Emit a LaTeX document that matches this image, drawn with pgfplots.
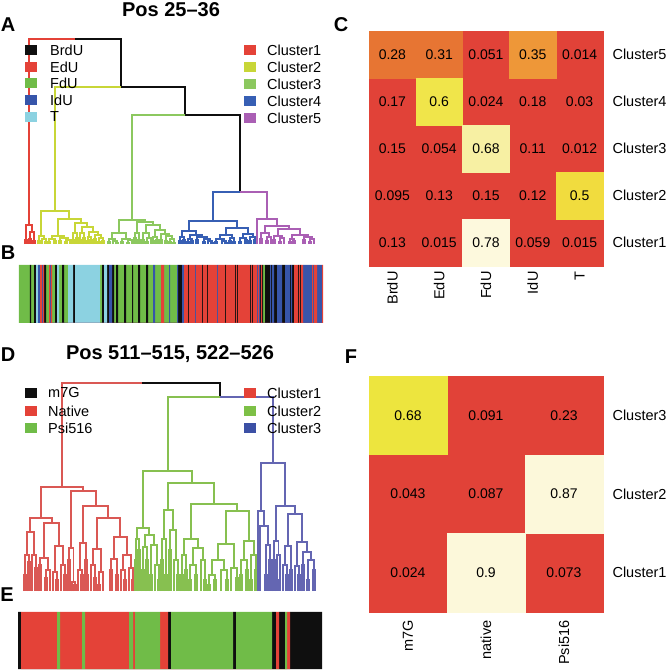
\documentclass[border=0pt]{standalone}
\usepackage{fontspec}
\setmainfont{Liberation Sans}
\usepackage{pgfplots}
\pgfplotsset{compat=1.18}
\definecolor{lK}{RGB}{15,15,15}
\definecolor{lR}{RGB}{228,66,56}
\definecolor{lG}{RGB}{112,188,72}
\definecolor{lB}{RGB}{55,85,170}
\definecolor{lC}{RGB}{140,210,225}
\definecolor{cA1}{RGB}{228,66,56}
\definecolor{cA2}{RGB}{200,214,55}
\definecolor{cA3}{RGB}{140,200,95}
\definecolor{cA4}{RGB}{55,95,180}
\definecolor{cA5}{RGB}{170,95,180}
\definecolor{dR}{RGB}{218,88,84}
\definecolor{dG}{RGB}{135,192,80}
\definecolor{dB}{RGB}{100,102,178}
\definecolor{cD2}{RGB}{125,192,70}
\definecolor{cD3}{RGB}{60,80,165}
\definecolor{hR}{RGB}{225,66,56}
\definecolor{hO1}{RGB}{231,117,51}
\definecolor{hO2}{RGB}{238,151,56}
\definecolor{hY1}{RGB}{240,229,74}
\definecolor{hY2}{RGB}{241,220,62}
\definecolor{hP1}{RGB}{247,240,163}
\definecolor{hP2}{RGB}{253,249,221}
\definecolor{hYF}{RGB}{237,229,62}
\definecolor{hPF}{RGB}{252,248,218}
\newcommand\fA{\fontsize{14.5}{17}\selectfont}
\newcommand\fB{\fontsize{14}{16}\selectfont}
\newcommand\fT{\fontsize{20}{22}\selectfont\bfseries}
\begin{document}
\begin{tikzpicture}
\path[use as bounding box] (0,0) rectangle (670pt,670pt);
% ---------------- main canvas axis (pixel coordinates, y downwards)
\begin{axis}[at={(0pt,670pt)}, anchor=north west, x=1pt, y=1pt, y dir=reverse,
  xmin=0, xmax=670, ymin=0, ymax=670, hide axis, clip=false, unbounded coords=jump,
  every axis plot/.append style={line width=1.1pt, line join=miter}]
% ===== Dendrogram A
\addplot[lK, mark=none] coordinates {(75,39)(121,39)(121,87)(nan,nan)(121,87)(185,87)(185,115)(nan,nan)(185,115)(240,115)(240,192)};
\addplot[cA1, mark=none] coordinates {(29,225)(29,39)(75,39)(nan,nan)
(26,240)(26,225)(32,225)(32,232)(nan,nan)
(25,244)(25,240)(27,240)(27,244)(nan,nan)
(30,239)(30,232)(34,232)(34,241)(nan,nan)
(29,244)(29,239)(31,239)(31,244)(nan,nan)
(33,244)(33,241)(35,241)(35,244)};
\addplot[cA2, mark=none] coordinates {(55,211)(55,87)(121,87)(nan,nan)
(41,236)(41,211)(69,211)(69,219)(nan,nan)
(39,241)(39,236)(44,236)(44,239)(nan,nan)
(38,244)(38,241)(40,241)(40,244)(nan,nan)
(42,244)(42,239)(46,239)(46,242)(nan,nan)
(45,244)(45,242)(47,242)(47,244)(nan,nan)
(58,236)(58,219)(81,219)(81,223)(nan,nan)
(52,239)(52,236)(64,236)(64,238)(nan,nan)
(49,242)(49,239)(55,239)(55,241)(nan,nan)
(48,244)(48,242)(50,242)(50,244)(nan,nan)
(54,244)(54,241)(56,241)(56,244)(nan,nan)
(60,241)(60,238)(68,238)(68,240)(nan,nan)
(59,244)(59,241)(61,241)(61,244)(nan,nan)
(66,242)(66,240)(70,240)(70,244)(nan,nan)
(65,244)(65,242)(67,242)(67,244)(nan,nan)
(75,233)(75,223)(87,223)(87,227)(nan,nan)
(73,240)(73,233)(77,233)(77,238)(nan,nan)
(72,244)(72,240)(74,240)(74,244)(nan,nan)
(76,242)(76,238)(78,238)(78,244)(nan,nan)
(75,244)(75,242)(77,242)(77,244)(nan,nan)
(82,233)(82,227)(93,227)(93,232)(nan,nan)
(80,240)(80,233)(84,233)(84,238)(nan,nan)
(79,244)(79,240)(81,240)(81,244)(nan,nan)
(83,244)(83,238)(85,238)(85,242)(nan,nan)
(84,244)(84,242)(86,242)(86,244)(nan,nan)
(89,237)(89,232)(98,232)(98,235)(nan,nan)
(88,241)(88,237)(91,237)(91,240)(nan,nan)
(87,244)(87,241)(89,241)(89,244)(nan,nan)
(90,244)(90,240)(92,240)(92,244)(nan,nan)
(95,239)(95,235)(101,235)(101,238)(nan,nan)
(94,244)(94,239)(96,239)(96,244)(nan,nan)
(99,242)(99,238)(103,238)(103,241)(nan,nan)
(98,244)(98,242)(100,242)(100,244)(nan,nan)
(102,244)(102,241)(104,241)(104,244)};
\addplot[cA3, mark=none] coordinates {(132,220)(132,115)(185,115)(nan,nan)
(119,233)(119,220)(145,220)(145,222)(nan,nan)
(112,239)(112,233)(126,233)(126,239)(nan,nan)
(109,242)(109,239)(115,239)(115,241)(nan,nan)
(108,244)(108,242)(110,242)(110,244)(nan,nan)
(113,244)(113,241)(117,241)(117,243)(nan,nan)
(116,244)(116,243)(118,243)(118,244)(nan,nan)
(122,242)(122,239)(130,239)(130,240)(nan,nan)
(121,244)(121,242)(123,242)(123,244)(nan,nan)
(128,243)(128,240)(132,240)(132,244)(nan,nan)
(127,244)(127,243)(129,243)(129,244)(nan,nan)
(137,233)(137,222)(153,222)(153,225)(nan,nan)
(135,238)(135,233)(139,233)(139,240)(nan,nan)
(134,241)(134,238)(136,238)(136,244)(nan,nan)
(133,244)(133,241)(135,241)(135,244)(nan,nan)
(138,244)(138,240)(140,240)(140,244)(nan,nan)
(146,233)(146,225)(160,225)(160,230)(nan,nan)
(143,240)(143,233)(149,233)(149,238)(nan,nan)
(142,244)(142,240)(144,240)(144,244)(nan,nan)
(147,242)(147,238)(151,238)(151,244)(nan,nan)
(146,244)(146,242)(148,242)(148,244)(nan,nan)
(155,237)(155,230)(165,230)(165,234)(nan,nan)
(153,241)(153,237)(157,237)(157,240)(nan,nan)
(152,244)(152,241)(154,241)(154,244)(nan,nan)
(156,244)(156,240)(158,240)(158,244)(nan,nan)
(161,240)(161,234)(169,234)(169,236)(nan,nan)
(160,244)(160,240)(162,240)(162,244)(nan,nan)
(166,241)(166,236)(172,236)(172,239)(nan,nan)
(165,244)(165,241)(167,241)(167,244)(nan,nan)
(170,242)(170,239)(174,239)(174,243)(nan,nan)
(169,244)(169,242)(171,242)(171,244)(nan,nan)
(173,244)(173,243)(175,243)(175,244)};
\addplot[cA4, mark=none] coordinates {(213,221)(213,192)(240,192)(nan,nan)
(189,231)(189,221)(237,221)(237,228)(nan,nan)
(182,237)(182,231)(196,231)(196,235)(nan,nan)
(180,241)(180,237)(184,237)(184,240)(nan,nan)
(179,244)(179,241)(181,241)(181,244)(nan,nan)
(183,244)(183,240)(185,240)(185,244)(nan,nan)
(190,239)(190,235)(202,235)(202,237)(nan,nan)
(188,242)(188,239)(192,239)(192,241)(nan,nan)
(187,244)(187,242)(189,242)(189,244)(nan,nan)
(191,244)(191,241)(193,241)(193,244)(nan,nan)
(197,240)(197,237)(207,237)(207,239)(nan,nan)
(196,244)(196,240)(198,240)(198,244)(nan,nan)
(204,242)(204,239)(210,239)(210,241)(nan,nan)
(203,244)(203,242)(205,242)(205,244)(nan,nan)
(208,244)(208,241)(212,241)(212,243)(nan,nan)
(211,244)(211,243)(213,243)(213,244)(nan,nan)
(226,235)(226,228)(248,228)(248,234)(nan,nan)
(220,239)(220,235)(232,235)(232,238)(nan,nan)
(216,242)(216,239)(224,239)(224,241)(nan,nan)
(215,244)(215,242)(217,242)(217,244)(nan,nan)
(222,244)(222,241)(226,241)(226,243)(nan,nan)
(225,244)(225,243)(227,243)(227,244)(nan,nan)
(230,241)(230,238)(234,238)(234,242)(nan,nan)
(229,244)(229,241)(231,241)(231,244)(nan,nan)
(233,244)(233,242)(235,242)(235,244)(nan,nan)
(243,238)(243,234)(253,234)(253,237)(nan,nan)
(240,242)(240,238)(246,238)(246,240)(nan,nan)
(239,244)(239,242)(241,242)(241,244)(nan,nan)
(245,244)(245,240)(247,240)(247,244)(nan,nan)
(250,241)(250,237)(255,237)(255,240)(nan,nan)
(249,244)(249,241)(251,241)(251,244)(nan,nan)
(254,244)(254,240)(256,240)(256,244)};
\addplot[cA5, mark=none] coordinates {(240,192)(267,192)(267,219)(nan,nan)
(257,244)(257,219)(277,219)(277,226)(nan,nan)
(265,233)(265,226)(289,226)(289,229)(nan,nan)
(261,239)(261,233)(269,233)(269,237)(nan,nan)
(260,244)(260,239)(262,239)(262,244)(nan,nan)
(267,241)(267,237)(271,237)(271,244)(nan,nan)
(266,244)(266,241)(268,241)(268,244)(nan,nan)
(278,236)(278,229)(300,229)(300,235)(nan,nan)
(274,240)(274,236)(282,236)(282,238)(nan,nan)
(273,244)(273,240)(275,240)(275,244)(nan,nan)
(280,242)(280,238)(284,238)(284,244)(nan,nan)
(279,244)(279,242)(281,242)(281,244)(nan,nan)
(292,239)(292,235)(308,235)(308,237)(nan,nan)
(290,242)(290,239)(294,239)(294,241)(nan,nan)
(289,244)(289,242)(291,242)(291,244)(nan,nan)
(293,244)(293,241)(295,241)(295,244)(nan,nan)
(304,240)(304,237)(312,237)(312,239)(nan,nan)
(303,244)(303,240)(305,240)(305,244)(nan,nan)
(310,242)(310,239)(314,239)(314,244)(nan,nan)
(309,244)(309,242)(311,242)(311,244)};
% ===== Dendrogram D
\addplot[lK, mark=none] coordinates {(142,383)(220,383)(220,397)};
\addplot[dR, mark=none] coordinates {(62,487)(62,383)(142,383)(nan,nan)
(41,518)(41,487)(83,487)(83,491)(nan,nan)
(30,532)(30,518)(52,518)(52,523)(nan,nan)
(27,555)(27,532)(34,532)(34,555)(nan,nan)
(25,575)(25,555)(29,555)(29,562)(nan,nan)
(24,591)(24,575)(26,575)(26,591)(nan,nan)
(28,591)(28,562)(30,562)(30,591)(nan,nan)
(32,591)(32,555)(36,555)(36,568)(nan,nan)
(35,591)(35,568)(37,568)(37,591)(nan,nan)
(44,558)(44,523)(59,523)(59,546)(nan,nan)
(40,565)(40,558)(48,558)(48,570)(nan,nan)
(39,591)(39,565)(41,565)(41,591)(nan,nan)
(46,578)(46,570)(50,570)(50,591)(nan,nan)
(45,591)(45,578)(47,578)(47,591)(nan,nan)
(55,572)(55,546)(63,546)(63,565)(nan,nan)
(53,591)(53,572)(57,572)(57,580)(nan,nan)
(56,591)(56,580)(58,580)(58,591)(nan,nan)
(61,591)(61,565)(65,565)(65,575)(nan,nan)
(64,591)(64,575)(66,575)(66,591)(nan,nan)
(71,548)(71,491)(96,491)(96,506)(nan,nan)
(69,560)(69,548)(73.5,548)(73.5,582)(nan,nan)
(68,591)(68,560)(70,560)(70,591)(nan,nan)
(72,591)(72,582)(75,582)(75,585)(nan,nan)
(74,591)(74,585)(76,585)(76,591)(nan,nan)
(83,543)(83,506)(108,506)(108,518)(nan,nan)
(80,570)(80,543)(86,543)(86,560)(nan,nan)
(78,591)(78,570)(82,570)(82,575)(nan,nan)
(81,591)(81,575)(83,575)(83,591)(nan,nan)
(85,591)(85,560)(87,560)(87,575)(nan,nan)
(86,591)(86,575)(88,575)(88,591)(nan,nan)
(97,549)(97,518)(120,518)(120,537)(nan,nan)
(93,565)(93,549)(101,549)(101,572)(nan,nan)
(91,591)(91,565)(95,565)(95,578)(nan,nan)
(94,591)(94,578)(96,578)(96,591)(nan,nan)
(99,585)(99,572)(103,572)(103,591)(nan,nan)
(98,591)(98,585)(100,585)(100,591)(nan,nan)
(114,559)(114,537)(127,537)(127,555)(nan,nan)
(111,570)(111,559)(117,559)(117,575)(nan,nan)
(110,591)(110,570)(112,570)(112,591)(nan,nan)
(116,591)(116,575)(118,575)(118,591)(nan,nan)
(123,570)(123,555)(131,555)(131,568)(nan,nan)
(121,591)(121,570)(125,570)(125,580)(nan,nan)
(124,591)(124,580)(126,580)(126,591)(nan,nan)
(129,591)(129,568)(133,568)(133,580)(nan,nan)
(132,591)(132,580)(134,580)(134,591)};
\addplot[dG, mark=none] coordinates {(168,471)(168,397)(220,397)(nan,nan)
(143,528)(143,471)(192,471)(192,483)(nan,nan)
(137,539)(137,528)(149,528)(149,535)(nan,nan)
(136,560)(136,539)(139,539)(139,550)(nan,nan)
(135,591)(135,560)(137,560)(137,591)(nan,nan)
(138,591)(138,550)(140,550)(140,575)(nan,nan)
(139,591)(139,575)(141,575)(141,591)(nan,nan)
(145,547)(145,535)(154,535)(154,545)(nan,nan)
(143,570)(143,547)(147,547)(147,560)(nan,nan)
(142,591)(142,570)(144,570)(144,591)(nan,nan)
(146,591)(146,560)(148,560)(148,580)(nan,nan)
(147,591)(147,580)(149,580)(149,591)(nan,nan)
(151,575)(151,545)(157,545)(157,565)(nan,nan)
(150,591)(150,575)(152,575)(152,591)(nan,nan)
(155,591)(155,565)(159,565)(159,580)(nan,nan)
(158,591)(158,580)(160,580)(160,591)(nan,nan)
(168,510)(168,483)(214,483)(214,504)(nan,nan)
(164,539)(164,510)(173,510)(173,530)(nan,nan)
(162,560)(162,539)(166,539)(166,575)(nan,nan)
(161,591)(161,560)(163,560)(163,591)(nan,nan)
(165,591)(165,575)(167,575)(167,591)(nan,nan)
(170,550)(170,530)(176,530)(176,560)(nan,nan)
(169,591)(169,550)(171,550)(171,591)(nan,nan)
(174,591)(174,560)(178,560)(178,575)(nan,nan)
(177,591)(177,575)(179,575)(179,591)(nan,nan)
(191,539)(191,504)(237,504)(237,511)(nan,nan)
(184,555)(184,539)(198,539)(198,548)(nan,nan)
(182,575)(182,555)(186,555)(186,570)(nan,nan)
(181,591)(181,575)(183,575)(183,591)(nan,nan)
(185,591)(185,570)(187,570)(187,591)(nan,nan)
(193,565)(193,548)(203,548)(203,560)(nan,nan)
(190,580)(190,565)(196,565)(196,575)(nan,nan)
(189,591)(189,580)(191,580)(191,591)(nan,nan)
(195,591)(195,575)(197,575)(197,591)(nan,nan)
(201,591)(201,560)(205,560)(205,580)(nan,nan)
(204,591)(204,580)(206,580)(206,591)(nan,nan)
(226,544)(226,511)(249,511)(249,541)(nan,nan)
(218,560)(218,544)(234,544)(234,568)(nan,nan)
(212,575)(212,560)(224,560)(224,570)(nan,nan)
(209,585)(209,575)(215,575)(215,580)(nan,nan)
(208,591)(208,585)(210,585)(210,591)(nan,nan)
(214,591)(214,580)(216,580)(216,591)(nan,nan)
(221,591)(221,570)(227,570)(227,580)(nan,nan)
(226,591)(226,580)(228,580)(228,591)(nan,nan)
(231,591)(231,568)(237,568)(237,578)(nan,nan)
(236,591)(236,578)(238,578)(238,591)(nan,nan)
(244,560)(244,541)(254,541)(254,555)(nan,nan)
(241,575)(241,560)(247,560)(247,570)(nan,nan)
(240,591)(240,575)(242,575)(242,591)(nan,nan)
(246,591)(246,570)(248,570)(248,591)(nan,nan)
(251,580)(251,555)(256,555)(256,570)(nan,nan)
(250,591)(250,580)(252,580)(252,591)(nan,nan)
(255,591)(255,570)(257,570)(257,591)};
\addplot[dB, mark=none] coordinates {(220,397)(273,397)(273,463)(nan,nan)
(261,511)(261,463)(285,463)(285,506)(nan,nan)
(258,591)(258,511)(264,511)(264,526)(nan,nan)
(260,591)(260,526)(268,526)(268,545)(nan,nan)
(266,575)(266,545)(270,545)(270,560)(nan,nan)
(265,591)(265,575)(267,575)(267,591)(nan,nan)
(269,591)(269,560)(271,560)(271,591)(nan,nan)
(276,541)(276,506)(295,506)(295,514)(nan,nan)
(274,560)(274,541)(278.5,541)(278.5,555)(nan,nan)
(273,591)(273,560)(275,560)(275,591)(nan,nan)
(277,580)(277,555)(280,555)(280,591)(nan,nan)
(276,591)(276,580)(278,580)(278,591)(nan,nan)
(288,546)(288,514)(302,514)(302,542)(nan,nan)
(285,565)(285,546)(291,546)(291,570)(nan,nan)
(283,591)(283,565)(287,565)(287,575)(nan,nan)
(286,591)(286,575)(288,575)(288,591)(nan,nan)
(290,591)(290,570)(292,570)(292,591)(nan,nan)
(297,566)(297,542)(307,542)(307,552)(nan,nan)
(295,591)(295,566)(299,566)(299,575)(nan,nan)
(298,591)(298,575)(300,575)(300,591)(nan,nan)
(303,565)(303,552)(311,552)(311,560)(nan,nan)
(302,591)(302,565)(304,565)(304,591)(nan,nan)
(308,580)(308,560)(314,560)(314,570)(nan,nan)
(307,591)(307,580)(309,580)(309,591)(nan,nan)
(313,591)(313,570)(315,570)(315,591)};
% ===== legends (squares)
\pgfplotsset{legsq/.style={only marks, mark=square*, mark size=4pt, mark options={xscale=1.35}}}
\addplot[legsq, lK] coordinates {(31,50)};
\addplot[legsq, lR] coordinates {(31,67)};
\addplot[legsq, lG] coordinates {(31,83)};
\addplot[legsq, lB] coordinates {(31,100)};
\addplot[legsq, lC] coordinates {(31,117)};
\addplot[legsq, cA1] coordinates {(250,50)};
\addplot[legsq, cA2] coordinates {(250,67)};
\addplot[legsq, cA3] coordinates {(250,84)};
\addplot[legsq, cA4] coordinates {(250,101)};
\addplot[legsq, cA5] coordinates {(250,118)};
\addplot[legsq, lK] coordinates {(31,393)};
\addplot[legsq, lR] coordinates {(31,411)};
\addplot[legsq, lG] coordinates {(31,428)};
\addplot[legsq, lR] coordinates {(250,393)};
\addplot[legsq, cD2] coordinates {(250,411)};
\addplot[legsq, cD3] coordinates {(250,428)};
% ===== texts
\node[font=\fT] at (axis cs:171,10) {Pos 25--36};
\node[font=\fT] at (axis cs:170,354) {Pos 511--515, 522--526};
\node[font=\fT] at (axis cs:8,25) {A};
\node[font=\fT] at (axis cs:8,253) {B};
\node[font=\fT] at (axis cs:341,25) {C};
\node[font=\fT] at (axis cs:8,355) {D};
\node[font=\fT] at (axis cs:7,595) {E};
\node[font=\fT] at (axis cs:351,357) {F};
\node[font=\fA, anchor=west, inner sep=0pt] at (axis cs:50,50) {BrdU};
\node[font=\fA, anchor=west, inner sep=0pt] at (axis cs:50,67) {EdU};
\node[font=\fA, anchor=west, inner sep=0pt] at (axis cs:50,83) {FdU};
\node[font=\fA, anchor=west, inner sep=0pt] at (axis cs:50,100) {IdU};
\node[font=\fA, anchor=west, inner sep=0pt] at (axis cs:50,117) {T};
\node[font=\fA, anchor=west, inner sep=0pt] at (axis cs:267,50) {Cluster1};
\node[font=\fA, anchor=west, inner sep=0pt] at (axis cs:267,67) {Cluster2};
\node[font=\fA, anchor=west, inner sep=0pt] at (axis cs:267,84) {Cluster3};
\node[font=\fA, anchor=west, inner sep=0pt] at (axis cs:267,101) {Cluster4};
\node[font=\fA, anchor=west, inner sep=0pt] at (axis cs:267,118) {Cluster5};
\node[font=\fA, anchor=west, inner sep=0pt] at (axis cs:48,393) {m7G};
\node[font=\fA, anchor=west, inner sep=0pt] at (axis cs:48,411) {Native};
\node[font=\fA, anchor=west, inner sep=0pt] at (axis cs:48,428) {Psi516};
\node[font=\fA, anchor=west, inner sep=0pt] at (axis cs:267,393) {Cluster1};
\node[font=\fA, anchor=west, inner sep=0pt] at (axis cs:267,411) {Cluster2};
\node[font=\fA, anchor=west, inner sep=0pt] at (axis cs:267,428) {Cluster3};
\end{axis}
% ---------------- strip B
\begin{axis}[at={(19pt,405pt)}, anchor=north west, scale only axis, width=304pt, height=58pt,
  xmin=0, xmax=304, ymin=0, ymax=1, hide axis, clip=false]
\addplot[ybar interval, fill=lG, draw=none] coordinates {(0,1)(11,0)(12,1)(15,0)(27,1)(30,0)(33,1)(36,0)(40,1)(43,0)(45,1)(49,0)(81,1)(83,0)(95,1)(97,0)(99,1)(105,0)(107,1)(113,0)(114,1)(119,0)(121,1)(127,0)(129,1)(134,0)(136,1)(142,0)(145,1)(150,0)(151,1)(158,0)(244,1)(246,0)};
\addplot[ybar interval, fill=lK, draw=none] coordinates {(11,1)(12,0)(15,1)(17,0)(25,1)(27,0)(36,1)(38,0)(43,1)(45,0)(54,1)(56,0)(83,1)(85,0)(88,1)(90,0)(93,1)(95,0)(97,1)(99,0)(105,1)(107,0)(113,1)(114,0)(119,1)(121,0)(127,1)(129,0)(159,1)(163,0)(169,1)(170,0)(183,1)(184,0)(188,1)(189,0)(206,1)(207,0)(216,1)(217,0)(218,1)(219,0)(231,1)(232,0)(233,1)(234,0)(241,1)(242,0)(243,1)(244,0)(246,1)(251,0)(252,1)(253,0)(255,1)(258,0)(263,1)(266,0)(271,1)(272,0)(273,1)(275,0)(279,1)(280,0)(281,1)(282,0)};
\addplot[ybar interval, fill=lC, draw=none] coordinates {(17,1)(19,0)(38,1)(40,0)(49,1)(54,0)(56,1)(81,0)(85,1)(88,0)};
\addplot[ybar interval, fill=lB, draw=none] coordinates {(19,1)(21,0)(23,1)(24,0)(31,1)(32,0)(90,1)(93,0)(134,1)(136,0)(150,1)(151,0)(158,1)(159,0)(163,1)(165,0)(176,1)(177,0)(198,1)(199,0)(238,1)(239,0)(240,1)(241,0)(251,1)(252,0)(253,1)(255,0)(258,1)(263,0)(266,1)(271,0)(272,1)(273,0)(284,1)(293,0)(294,1)(295,0)(298,1)(303,0)};
\addplot[ybar interval, fill=lR, draw=none] coordinates {(21,1)(23,0)(24,1)(25,0)(30,1)(31,0)(32,1)(33,0)(142,1)(145,0)(165,1)(169,0)(170,1)(176,0)(177,1)(183,0)(184,1)(188,0)(189,1)(198,0)(199,1)(206,0)(207,1)(216,0)(217,1)(218,0)(219,1)(231,0)(232,1)(233,0)(234,1)(238,0)(239,1)(240,0)(242,1)(243,0)(275,1)(279,0)(280,1)(281,0)(282,1)(284,0)(293,1)(294,0)(295,1)(298,0)(303,1)(304,0)};
\end{axis}
% ---------------- strip E
\begin{axis}[at={(18pt,58pt)}, anchor=north west, scale only axis, width=304pt, height=57pt,
  xmin=0, xmax=304, ymin=0, ymax=1, hide axis, clip=false]
\addplot[ybar interval, fill=lK, draw=none] coordinates {(0,1)(3,0)(150,1)(153,0)(215,1)(218,0)(254,1)(258,0)(261,1)(267,0)(272,1)(304,0)};
\addplot[ybar interval, fill=lR, draw=none] coordinates {(3,1)(39,0)(42,1)(64,0)(67,1)(111,0)(115,1)(117,0)(142,1)(150,0)(258,1)(261,0)(269,1)(272,0)};
\addplot[ybar interval, fill=lG, draw=none] coordinates {(39,1)(42,0)(64,1)(67,0)(111,1)(115,0)(117,1)(142,0)(153,1)(215,0)(218,1)(254,0)(267,1)(269,0)};
\end{axis}
% ---------------- heatmap C
\begin{axis}[at={(369pt,639pt)}, anchor=north west, scale only axis, width=234pt, height=235pt,
  xmin=-0.5, xmax=4.5, ymin=-0.5, ymax=4.5, clip=false,
  axis line style={draw=none}, major tick length=0pt,
  xtick={0,1,2,3,4}, xticklabels={BrdU,EdU,FdU,IdU,T},
  ytick={0,1,2,3,4}, yticklabels={Cluster1,Cluster2,Cluster3,Cluster4,Cluster5},
  yticklabel pos=right,
  xticklabel style={rotate=90, anchor=east, font=\fA},
  yticklabel style={anchor=west, font=\fA},
  xticklabel shift=2pt, yticklabel shift=6pt]
\pgfplotsset{cellC/.style={only marks, mark=square*, mark size=23.45pt}}
\addplot[cellC, hR] coordinates {(2,4)(4,4)(0,3)(2,3)(3,3)(4,3)(0,2)(1,2)(3,2)(4,2)(0,1)(1,1)(2,1)(3,1)(0,0)(1,0)(3,0)(4,0)};
\addplot[cellC, hO1] coordinates {(0,4)(1,4)};
\addplot[cellC, hO2] coordinates {(3,4)};
\addplot[cellC, hY1] coordinates {(1,3)};
\addplot[cellC, hY2] coordinates {(4,1)};
\addplot[cellC, hP1] coordinates {(2,2)};
\addplot[cellC, hP2] coordinates {(2,0)};
\addplot[draw=none, mark=none, nodes near coords={\lab}, nodes near coords align={center},
  visualization depends on={value \thisrow{lab}\as\lab},
  every node near coord/.append style={font=\fB, text=black}] table {
x y lab
0 4 0.28
1 4 0.31
2 4 0.051
3 4 0.35
4 4 0.014
0 3 0.17
1 3 0.6
2 3 0.024
3 3 0.18
4 3 0.03
0 2 0.15
1 2 0.054
2 2 0.68
3 2 0.11
4 2 0.012
0 1 0.095
1 1 0.13
2 1 0.15
3 1 0.12
4 1 0.5
0 0 0.13
1 0 0.015
2 0 0.78
3 0 0.059
4 0 0.015
};
\end{axis}
% ---------------- heatmap F
\begin{axis}[at={(369pt,294pt)}, anchor=north west, scale only axis, width=234pt, height=236pt,
  xmin=-0.5, xmax=2.5, ymin=-0.5, ymax=2.5, clip=false,
  axis line style={draw=none}, major tick length=0pt,
  xtick={0,1,2}, xticklabels={m7G,native,Psi516},
  ytick={0,1,2}, yticklabels={Cluster1,Cluster2,Cluster3},
  yticklabel pos=right,
  xticklabel style={rotate=90, anchor=east, font=\fA},
  yticklabel style={anchor=west, font=\fA},
  xticklabel shift=5pt, yticklabel shift=6pt]
\pgfplotsset{cellF/.style={only marks, mark=square*, mark size=39.2pt}}
\addplot[cellF, hR] coordinates {(1,2)(2,2)(0,1)(1,1)(0,0)(2,0)};
\addplot[cellF, hYF] coordinates {(0,2)};
\addplot[cellF, hPF] coordinates {(2,1)(1,0)};
\addplot[draw=none, mark=none, nodes near coords={\lab}, nodes near coords align={center},
  visualization depends on={value \thisrow{lab}\as\lab},
  every node near coord/.append style={font=\fB, text=black}] table {
x y lab
0 2 0.68
1 2 0.091
2 2 0.23
0 1 0.043
1 1 0.087
2 1 0.87
0 0 0.024
1 0 0.9
2 0 0.073
};
\end{axis}
\end{tikzpicture}
\end{document}
